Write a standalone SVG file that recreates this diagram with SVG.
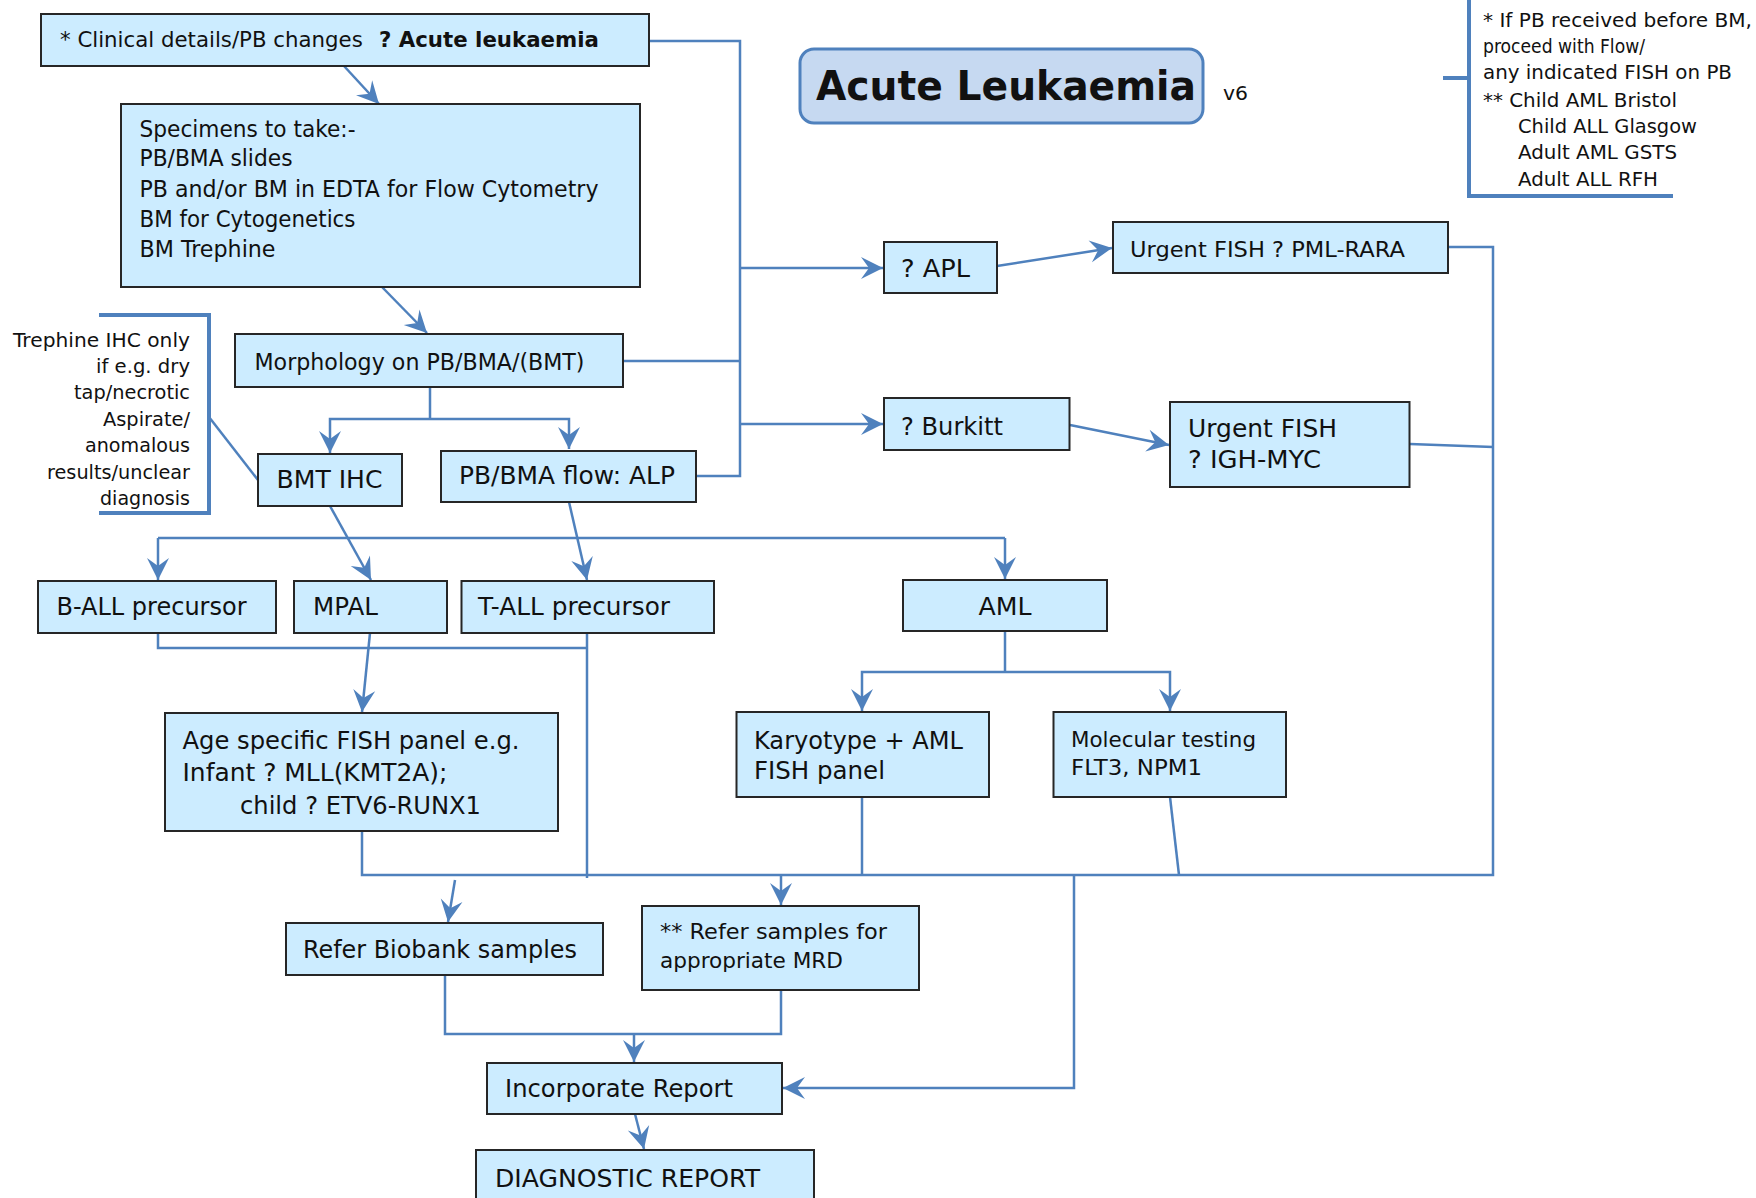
<svg xmlns="http://www.w3.org/2000/svg" width="1756" height="1198" viewBox="0 0 1756 1198">
<style>
.box{fill:#CCECFF;stroke:#262626;stroke-width:2}
.t{font-family:"DejaVu Sans","Liberation Sans",sans-serif;fill:#111}
.f25{font-size:25px}.f23{font-size:23px}.f21{font-size:21px}.f20{font-size:20px}.f19{font-size:19px}
.c{fill:none;stroke:#4F81BD;stroke-width:2.5}
.ca{fill:none;stroke:#4F81BD;stroke-width:2.5;marker-end:url(#ah)}
.br{fill:none;stroke:#4F81BD;stroke-width:4}
</style>
<defs>
<marker id="ah" markerUnits="userSpaceOnUse" markerWidth="26" markerHeight="26" viewBox="-24 -12 26 24" refX="0" refY="0" orient="auto">
<path d="M0,0 L-22,-11 L-14,0 L-22,11 Z" fill="#4F81BD"/>
</marker>
</defs>
<rect width="1756" height="1198" fill="#fff"/>

<g id="connectors">
<line class="ca" x1="344" y1="66" x2="379" y2="104"/>
<line class="ca" x1="382" y1="287" x2="427" y2="333"/>
<polyline class="c" points="649,41 740,41 740,476 696,476"/>
<line class="c" x1="623" y1="361" x2="740" y2="361"/>
<line class="ca" x1="740" y1="268" x2="883" y2="268"/>
<line class="ca" x1="740" y1="424" x2="883" y2="424"/>
<line class="ca" x1="997" y1="266" x2="1112" y2="248"/>
<line class="ca" x1="1070" y1="425" x2="1169" y2="445"/>
<polyline class="c" points="430,387 430,419"/>
<polyline class="ca" points="430,419 330,419 330,453"/>
<polyline class="ca" points="430,419 569,419 569,449"/>
<line class="ca" x1="330" y1="506" x2="371" y2="580"/>
<line class="ca" x1="569" y1="502" x2="587" y2="580"/>
<polyline class="ca" points="1005,538 1005,579"/>
<polyline class="ca" points="158,538 158,580"/>
<line class="c" x1="158" y1="538" x2="1005" y2="538"/>
<line class="c" x1="209" y1="417" x2="258" y2="480"/>
<polyline class="c" points="158,633 158,648 587,648"/>
<line class="c" x1="587" y1="633" x2="587" y2="878"/>
<line class="ca" x1="370" y1="633" x2="362" y2="712"/>
<line class="c" x1="1005" y1="631" x2="1005" y2="672"/>
<polyline class="ca" points="1005,672 862,672 862,711"/>
<polyline class="ca" points="1005,672 1170,672 1170,711"/>
<polyline class="c" points="362,831 362,875 1493,875 1493,247 1448,247"/>
<polyline class="c" points="1410,444 1493,447"/>
<line class="c" x1="862" y1="797" x2="862" y2="875"/>
<line class="c" x1="1170" y1="797" x2="1179" y2="875"/>
<line class="ca" x1="455" y1="880" x2="448" y2="922"/>
<line class="ca" x1="781" y1="875" x2="781" y2="905"/>
<polyline class="c" points="445,975 445,1034 781,1034 781,990"/>
<line class="ca" x1="634" y1="1034" x2="634" y2="1062"/>
<polyline class="ca" points="1074,875 1074,1088 783,1088"/>
<line class="ca" x1="635" y1="1114" x2="644" y2="1149"/>
</g>

<g id="title">
<rect x="800" y="49" width="403" height="74" rx="14" fill="#C6D9F1" stroke="#4F81BD" stroke-width="3"/>
<text class="t" x="816" y="100" font-size="41" font-weight="bold" textLength="380" lengthAdjust="spacingAndGlyphs">Acute Leukaemia</text>
<text class="t f20" x="1223" y="100" textLength="25" lengthAdjust="spacingAndGlyphs">v6</text>
</g>

<g id="note-top">
<polyline class="br" points="1469,-5 1469,196 1673,196"/>
<line class="br" x1="1443" y1="78" x2="1469" y2="78"/>
<text class="t f20" x="1483" y="27" textLength="269" lengthAdjust="spacingAndGlyphs">* If PB received before BM,</text>
<text class="t f20" x="1483" y="53" textLength="162" lengthAdjust="spacingAndGlyphs">proceed with Flow/</text>
<text class="t f20" x="1483" y="79" textLength="249" lengthAdjust="spacingAndGlyphs">any indicated FISH on PB</text>
<text class="t f20" x="1483" y="107" textLength="194" lengthAdjust="spacingAndGlyphs">** Child AML Bristol</text>
<text class="t f20" x="1518" y="133" textLength="179" lengthAdjust="spacingAndGlyphs">Child ALL Glasgow</text>
<text class="t f20" x="1518" y="159" textLength="159" lengthAdjust="spacingAndGlyphs">Adult AML GSTS</text>
<text class="t f20" x="1518" y="186" textLength="140" lengthAdjust="spacingAndGlyphs">Adult ALL RFH</text>
</g>

<g id="note-trephine">
<polyline class="br" points="99,315 209,315 209,513 99,513"/>
<g class="t f19" text-anchor="end">
<text x="190" y="347" textLength="177" lengthAdjust="spacingAndGlyphs">Trephine IHC only</text>
<text x="190" y="373" textLength="94" lengthAdjust="spacingAndGlyphs">if e.g. dry</text>
<text x="190" y="399" textLength="116" lengthAdjust="spacingAndGlyphs">tap/necrotic</text>
<text x="190" y="426" textLength="87" lengthAdjust="spacingAndGlyphs">Aspirate/</text>
<text x="190" y="452" textLength="105" lengthAdjust="spacingAndGlyphs">anomalous</text>
<text x="190" y="479" textLength="143" lengthAdjust="spacingAndGlyphs">results/unclear</text>
<text x="190" y="505" textLength="90" lengthAdjust="spacingAndGlyphs">diagnosis</text>
</g>
</g>

<g id="n-clinical">
<rect class="box" x="41" y="14" width="608" height="52"/>
<text class="t" x="60" y="47" font-size="21.3">* Clinical details/PB changes</text>
<text class="t" x="379" y="47" font-size="21.3" font-weight="bold">? Acute leukaemia</text>
</g>

<g id="n-specimens">
<rect class="box" x="121" y="104" width="519" height="183"/>
<g class="t f23">
<text x="139.5" y="137" textLength="216" lengthAdjust="spacingAndGlyphs">Specimens to take:-</text>
<text x="139.5" y="166" textLength="153" lengthAdjust="spacingAndGlyphs">PB/BMA slides</text>
<text x="139.5" y="197" textLength="459" lengthAdjust="spacingAndGlyphs">PB and/or BM in EDTA for Flow Cytometry</text>
<text x="139.5" y="227" textLength="216" lengthAdjust="spacingAndGlyphs">BM for Cytogenetics</text>
<text x="139.5" y="257" textLength="136" lengthAdjust="spacingAndGlyphs">BM Trephine</text>
</g>
</g>

<g id="n-morphology">
<rect class="box" x="235" y="334" width="388" height="53"/>
<text class="t f23" x="254.5" y="370" textLength="330" lengthAdjust="spacingAndGlyphs">Morphology on PB/BMA/(BMT)</text>
</g>

<g id="n-bmtihc">
<rect class="box" x="258" y="454" width="144" height="52"/>
<text class="t f25" x="276.5" y="488" textLength="106" lengthAdjust="spacingAndGlyphs">BMT IHC</text>
</g>

<g id="n-flow">
<rect class="box" x="441" y="451" width="255" height="51"/>
<text class="t f25" x="459" y="484" textLength="216" lengthAdjust="spacingAndGlyphs">PB/BMA flow: ALP</text>
</g>

<g id="n-apl">
<rect class="box" x="884" y="242" width="113" height="51"/>
<text class="t f25" x="901" y="277" textLength="69" lengthAdjust="spacingAndGlyphs">? APL</text>
</g>

<g id="n-pml">
<rect class="box" x="1113" y="222" width="335" height="51"/>
<text class="t" x="1130" y="257" font-size="22" textLength="275" lengthAdjust="spacingAndGlyphs">Urgent FISH ? PML-RARA</text>
</g>

<g id="n-burkitt">
<rect class="box" x="884" y="398" width="185.5" height="52"/>
<text class="t f25" x="901" y="435" textLength="102" lengthAdjust="spacingAndGlyphs">? Burkitt</text>
</g>

<g id="n-igh">
<rect class="box" x="1170" y="402" width="239.5" height="85"/>
<text class="t f25" x="1188" y="437" textLength="149" lengthAdjust="spacingAndGlyphs">Urgent FISH</text>
<text class="t f25" x="1188" y="468" textLength="133" lengthAdjust="spacingAndGlyphs">? IGH-MYC</text>
</g>

<g id="n-ball">
<rect class="box" x="38" y="581" width="238" height="52"/>
<text class="t f25" x="56.5" y="615" textLength="190" lengthAdjust="spacingAndGlyphs">B-ALL precursor</text>
</g>

<g id="n-mpal">
<rect class="box" x="294" y="581" width="153" height="52"/>
<text class="t f25" x="313" y="615" textLength="65" lengthAdjust="spacingAndGlyphs">MPAL</text>
</g>

<g id="n-tall">
<rect class="box" x="461.5" y="581" width="252.5" height="52"/>
<text class="t f25" x="478" y="615" textLength="192" lengthAdjust="spacingAndGlyphs">T-ALL precursor</text>
</g>

<g id="n-aml">
<rect class="box" x="903" y="580" width="204" height="51"/>
<text class="t f25" x="1005" y="615" text-anchor="middle" textLength="53" lengthAdjust="spacingAndGlyphs">AML</text>
</g>

<g id="n-age">
<rect class="box" x="165" y="713" width="393" height="118"/>
<text class="t f25" x="182.5" y="749" textLength="337" lengthAdjust="spacingAndGlyphs">Age specific FISH panel e.g.</text>
<text class="t f25" x="182.5" y="781" textLength="265" lengthAdjust="spacingAndGlyphs">Infant ? MLL(KMT2A);</text>
<text class="t f25" x="240" y="814" textLength="241" lengthAdjust="spacingAndGlyphs">child ? ETV6-RUNX1</text>
</g>

<g id="n-karyotype">
<rect class="box" x="736.5" y="712" width="252.5" height="85"/>
<text class="t f25" x="754" y="749" textLength="209" lengthAdjust="spacingAndGlyphs">Karyotype + AML</text>
<text class="t f25" x="754" y="779" textLength="131" lengthAdjust="spacingAndGlyphs">FISH panel</text>
</g>

<g id="n-molecular">
<rect class="box" x="1053.5" y="712" width="232.5" height="85"/>
<text class="t f21" x="1071" y="747" textLength="185" lengthAdjust="spacingAndGlyphs">Molecular testing</text>
<text class="t f21" x="1071" y="775" textLength="131" lengthAdjust="spacingAndGlyphs">FLT3, NPM1</text>
</g>

<g id="n-biobank">
<rect class="box" x="286" y="923" width="317" height="52"/>
<text class="t f25" x="303" y="958" textLength="274" lengthAdjust="spacingAndGlyphs">Refer Biobank samples</text>
</g>

<g id="n-mrd">
<rect class="box" x="642" y="906" width="277" height="84"/>
<text class="t f21" x="660" y="939" textLength="227" lengthAdjust="spacingAndGlyphs">** Refer samples for</text>
<text class="t f21" x="660" y="968" textLength="183" lengthAdjust="spacingAndGlyphs">appropriate MRD</text>
</g>

<g id="n-incorporate">
<rect class="box" x="487" y="1063" width="295" height="51"/>
<text class="t f25" x="505" y="1097" textLength="228" lengthAdjust="spacingAndGlyphs">Incorporate Report</text>
</g>

<g id="n-diagnostic">
<rect class="box" x="476" y="1150" width="338" height="60"/>
<text class="t f25" x="495" y="1187" textLength="265" lengthAdjust="spacingAndGlyphs">DIAGNOSTIC REPORT</text>
</g>
</svg>
